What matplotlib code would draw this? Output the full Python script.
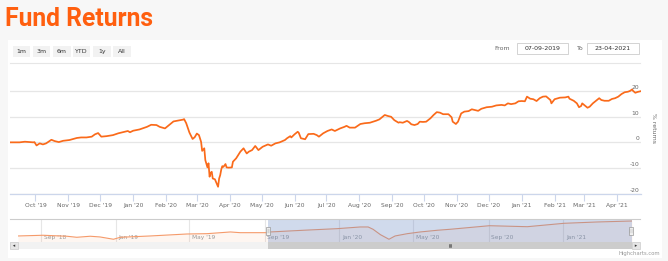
import datetime as dt
import numpy as np
import matplotlib
matplotlib.use("Agg")
import matplotlib.pyplot as plt
import matplotlib.dates as mdates
from matplotlib.patches import Rectangle, Polygon
from matplotlib.lines import Line2D
from matplotlib.transforms import ScaledTranslation, blended_transform_factory

# ---------------- data ----------------
title = "Fund Returns"
range_buttons = ["1m", "3m", "6m", "YTD", "1y", "All"]
from_label = "07-09-2019"
to_label = "23-04-2021"
y_axis_title = "% returns"
y_ticks = [-20, -10, 0, 10, 20]

start_date = "2019-09-07"
day_offsets = [0, 9, 14, 22, 23, 25, 28, 31, 34, 39, 42, 46, 50, 56, 63, 67, 72, 77, 80, 83,
               86, 91, 97, 102, 107, 111, 113, 116, 122, 129, 133, 138, 141, 146, 151, 154,
               158, 163, 164, 166, 169, 172, 174, 176, 178, 180, 181, 183, 184, 186, 187,
               188, 189, 190, 191, 193, 195, 196, 197, 198, 199, 200, 201, 203, 204, 206,
               209, 210, 213, 217, 220, 221, 223, 225, 228, 231, 234, 238, 243, 246, 250,
               254, 259, 261, 264, 265, 268, 271, 272, 274, 278, 281, 286, 289, 291, 295,
               299, 303, 306, 311, 315, 317, 320, 325, 330, 334, 339, 342, 345, 348, 353,
               356, 359, 362, 366, 367, 370, 374, 376, 378, 381, 384, 386, 389, 392, 396,
               399, 402, 405, 408, 413, 416, 417, 420, 422, 425, 428, 432, 435, 438, 441,
               444, 449, 454, 458, 463, 466, 469, 472, 476, 479, 482, 485, 487, 490, 493,
               496, 499, 502, 505, 509, 510, 513, 518, 523, 526, 527, 531, 534, 536, 538,
               539, 542, 544, 546, 549, 553, 555, 557, 560, 564, 567, 570, 573, 576, 579,
               582, 584, 586, 587, 589, 591, 594]
returns = [0.0, 0.0, 0.25, 0.0, 0.1, -1.2, -0.4, -0.8, -0.4, 1.0, 0.5, 0.1, 0.6, 0.9, 1.7, 1.9,
           1.9, 2.2, 3.1, 3.6, 2.2, 2.4, 2.8, 3.5, 4.0, 4.4, 3.9, 4.5, 5.0, 6.0, 6.8, 6.7, 6.0,
           5.4, 7.1, 8.1, 8.4, 8.8, 9.0, 7.4, 3.8, 1.3, 2.0, 3.4, 2.8, 0.2, -3.3, -2.3, -6.9,
           -9.7, -8.1, -13.3, -11.8, -11.4, -14.0, -14.3, -16.2, -17.2, -14.0, -12.7, -10.5,
           -9.2, -9.5, -8.4, -9.7, -9.8, -9.7, -7.5, -6.2, -3.6, -2.3, -3.0, -4.3, -3.6, -3.0,
           -1.4, -3.0, -1.7, -0.8, -1.3, -0.4, 0.0, 0.9, 1.6, 2.4, 1.9, 3.1, 4.1, 3.7, 1.6,
           1.2, 3.2, 3.3, 2.8, 2.2, 3.5, 4.4, 5.0, 4.4, 5.4, 6.0, 6.4, 5.7, 5.7, 7.1, 7.4,
           7.6, 8.0, 8.4, 8.9, 10.6, 10.2, 9.9, 8.6, 7.6, 7.8, 7.6, 8.3, 7.8, 7.0, 6.7, 7.1,
           8.0, 7.9, 8.0, 9.3, 10.6, 11.7, 11.5, 10.9, 10.9, 9.7, 8.0, 7.1, 8.0, 11.2, 11.9,
           12.1, 12.8, 12.5, 12.2, 13.0, 13.6, 13.8, 14.3, 14.5, 14.3, 15.1, 14.8, 15.1, 15.9,
           16.0, 15.9, 17.7, 16.9, 16.7, 16.0, 17.1, 17.7, 17.8, 16.4, 15.1, 16.7, 17.3, 17.4,
           17.7, 16.9, 16.1, 15.1, 13.6, 14.1, 15.1, 14.1, 13.4, 13.8, 15.1, 16.4, 17.1, 16.4,
           16.1, 16.1, 16.8, 17.1, 17.7, 18.7, 19.4, 19.6, 19.9, 20.5, 19.9, 19.2, 19.5, 19.8]

# navigator (full history)
nav_start = "2018-07-25"
nav_day_offsets = [0, 41, 80, 96, 118, 134, 156, 167, 216, 276, 309, 347, 363, 407, 412, 466,
                   521, 559, 572, 580, 592, 606, 616, 636, 657, 685, 706, 770, 832, 892, 946, 1003]
nav_values = [-6.0, -4.7, -6.5, -8.4, -6.5, -7.8, -12.0, -8.4, -6.0, -2.4, -1.8, 1.3, 0.0, 0.0,
              1.3, 4.4, 7.3, 10.4, 10.4, 6.2, -3.6, -12.0, -6.0, -1.8, 1.3, 4.4, 6.2, 12.7,
              10.9, 17.1, 19.5, 21.3]
nav_tick_dates = ["2018-09-01", "2019-01-01", "2019-05-01", "2019-09-01",
                  "2020-01-01", "2020-05-01", "2020-09-01", "2021-01-01"]

# ---------------- styling ----------------
W, H = 668, 261
ORANGE = "#fa6a1a"
TITLE_ORANGE = "#ff5f0f"
GRID = "#e6e6e6"
AXIS = "#ccd6eb"
LABEL = "#666666"


def fx(x):
    return x / W


def fy(y):
    return 1 - y / H


def frect(fig, x0, y0, x1, y1, **kw):
    r = Rectangle((fx(x0), fy(y1)), (x1 - x0) / W, (y1 - y0) / H,
                  transform=fig.transFigure, **kw)
    fig.add_artist(r)
    return r


def fline(fig, x0, y0, x1, y1, **kw):
    l = Line2D([fx(x0), fx(x1)], [fy(y0), fy(y1)], transform=fig.transFigure, **kw)
    fig.add_artist(l)
    return l


plt.rcParams["font.family"] = ["DejaVu Sans"]
fig = plt.figure(figsize=(W / 100, H / 100), dpi=100, facecolor="#f7f7f7")

# white chart panel
frect(fig, 8, 40, 662, 258, facecolor="white", edgecolor="none", zorder=0)

# title
fig.text(fx(5), fy(26), title, fontsize=17.8, fontweight="bold", color=TITLE_ORANGE,
         family=["Roboto", "DejaVu Sans"], ha="left", va="baseline")

# range selector buttons
btn_x = [12.7, 32.7, 53.0, 72.7, 93.3, 113.3]
for bx, lab in zip(btn_x, range_buttons):
    frect(fig, bx, 45.7, bx + 17.6, 57.3, facecolor="#f2f2f2", edgecolor="none", zorder=1)
    fig.text(fx(bx + 8.8), fy(51.5), lab, fontsize=4.5, color="#333333",
             ha="center", va="center", zorder=2)

# date inputs
fig.text(fx(510), fy(48.5), "From", fontsize=4.5, color=LABEL, ha="right", va="center")
frect(fig, 517, 42.7, 568, 53.5, facecolor="white", edgecolor="#cccccc", lw=0.6, zorder=1)
fig.text(fx(542.5), fy(48.2), from_label, fontsize=4.5, color="#333333", ha="center",
         va="center", zorder=2)
fig.text(fx(577), fy(48.5), "To", fontsize=4.5, color=LABEL, ha="left", va="center")
frect(fig, 586.7, 42.7, 639, 53.5, facecolor="white", edgecolor="#cccccc", lw=0.6, zorder=1)
fig.text(fx(612.8), fy(48.2), to_label, fontsize=4.5, color="#333333", ha="center",
         va="center", zorder=2)

# separator line
fline(fig, 10, 63.3, 640, 63.3, color=GRID, lw=0.8)

# ---------------- main chart ----------------
t0 = np.datetime64(start_date)
dates = t0 + np.array(day_offsets, dtype="timedelta64[D]")
dates = dates.astype("datetime64[ms]").astype(dt.datetime)

left_px, right_px, top_px, bot_px = 10, 640.6, 70, 194
ax = fig.add_axes([fx(left_px), fy(bot_px), (right_px - left_px) / W, (bot_px - top_px) / H])
ax.set_facecolor("none")
ax.plot(dates, returns, color=ORANGE, lw=1.25, solid_joinstyle="round", zorder=3)
ax.set_xlim(dt.datetime(2019, 9, 7), dt.datetime(2021, 4, 23))
ax.set_ylim(-20, -20 + (bot_px - top_px) / 2.5825)

for s in ["top", "left", "right"]:
    ax.spines[s].set_visible(False)
ax.spines["bottom"].set_color(AXIS)
ax.spines["bottom"].set_linewidth(0.9)

ax.set_yticks(y_ticks)
ax.yaxis.grid(True, color=GRID, lw=0.9)
ax.tick_params(axis="y", length=0, labelleft=False, labelright=False)
ytrans = blended_transform_factory(ax.transAxes, ax.transData) + \
    ScaledTranslation(-1.5 / 100, 3.5 / 100, fig.dpi_scale_trans)
for v in y_ticks:
    ax.text(1.0, v, f"{v}", transform=ytrans, ha="right", va="center",
            fontsize=4.3, color=LABEL)

ax.xaxis.set_major_locator(mdates.MonthLocator())
ax.xaxis.set_major_formatter(mdates.DateFormatter("%b '%y"))
ax.tick_params(axis="x", direction="out", length=5, width=0.8, color=AXIS,
               labelsize=4.3, labelcolor=LABEL, pad=1.5)

fig.text(fx(653), fy(128), y_axis_title, rotation=-90, fontsize=4.4, color=LABEL,
         ha="center", va="center")

# ---------------- navigator ----------------
n0 = np.datetime64(nav_start)
nav_dates = (n0 + np.array(nav_day_offsets, dtype="timedelta64[D]")).astype(
    "datetime64[ms]").astype(dt.datetime)

nav_l, nav_r, nav_t, nav_b = 18, 632, 219.3, 242
nav = fig.add_axes([fx(nav_l), fy(nav_b), (nav_r - nav_l) / W, (nav_b - nav_t) / H])
nav.set_facecolor("none")
nav.set_xlim(nav_dates[0], nav_dates[-1])
nav.set_ylim(-17, 24.4)
nav.fill_between(nav_dates, nav_values, -17, color=ORANGE, alpha=0.06, lw=0, zorder=1)
nav.plot(nav_dates, nav_values, color="#f59a6a", lw=0.8, zorder=2)
for s in nav.spines.values():
    s.set_visible(False)
nav.set_xticks([])
nav.set_yticks([])
tick_dts = [dt.datetime.strptime(d, "%Y-%m-%d") for d in nav_tick_dates]
for d in tick_dts:
    nav.axvline(d, color=GRID, lw=0.8, zorder=0)
ntrans = blended_transform_factory(nav.transData, nav.transAxes) + \
    ScaledTranslation(2.5 / 100, 0, fig.dpi_scale_trans)
for d in tick_dts:
    nav.text(d, 0.22, d.strftime("%b '%y"), transform=ntrans, fontsize=4.2,
             color="#999999", ha="left", va="center", zorder=1)

# selection mask
sel_start = dt.datetime(2019, 9, 7)
sel_end = dt.datetime(2021, 4, 23)
nav.axvspan(sel_start, sel_end, color=(102 / 255, 133 / 255, 194 / 255), alpha=0.3,
            lw=0, zorder=4)

# outline on top
fline(fig, 10, 219.3, 640, 219.3, color="#cccccc", lw=0.8)

# scrollbar
frect(fig, 10, 242.3, 640, 249, facecolor="#f2f2f2", edgecolor="none", zorder=1)
sel_px0 = 268.2
frect(fig, sel_px0, 242.3, 632, 249, facecolor="#cccccc", edgecolor="none", zorder=2)
frect(fig, 10, 242.3, 18, 249, facecolor="#e6e6e6", edgecolor="#cccccc", lw=0.5, zorder=2)
frect(fig, 632, 242.3, 640, 249, facecolor="#e6e6e6", edgecolor="#cccccc", lw=0.5, zorder=2)
for pts in ([(15.2, 244.5), (15.2, 246.9), (12.8, 245.7)],
            [(634.8, 244.5), (634.8, 246.9), (637.2, 245.7)]):
    fig.add_artist(Polygon([(fx(a), fy(b)) for a, b in pts], closed=True,
                           transform=fig.transFigure, facecolor="#333333",
                           edgecolor="none", zorder=3))
gx = (sel_px0 + 632) / 2
for dx in (-1.2, 0, 1.2):
    fline(fig, gx + dx, 244.3, gx + dx, 247.1, color="#333333", lw=0.4, zorder=3)

# handles
for hx in (sel_px0, 631.0):
    frect(fig, hx - 2.2, 226.8, hx + 2.2, 234.8, facecolor="#f2f2f2", edgecolor="#999999",
          lw=0.5, zorder=5)
    for dx in (-0.7, 0.7):
        fline(fig, hx + dx, 228.8, hx + dx, 232.8, color="#999999", lw=0.3, zorder=6)

# credits
fig.text(fx(660), fy(253), "Highcharts.com", fontsize=3.8, color="#999999",
         ha="right", va="center")

fig.savefig("out.png", dpi=100, facecolor=fig.get_facecolor())
